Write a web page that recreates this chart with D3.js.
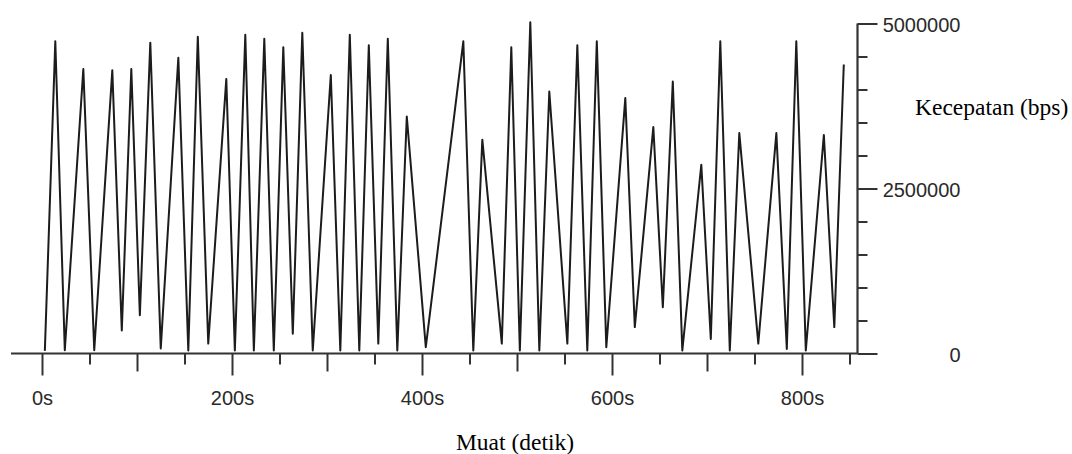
<!DOCTYPE html>
<html>
<head>
<meta charset="utf-8">
<script src="https://cdn.jsdelivr.net/npm/d3@7"></script>
<style>
  body { margin: 0; background: #fff; }
  svg { display: block; }
  .tick text { font-family: "Liberation Sans", Arial, sans-serif; font-size: 20px; fill: #2a2a2a; }
  .title { font-family: "Liberation Serif", "Times New Roman", serif; font-size: 23.5px; fill: #000; }
</style>
</head>
<body>
<svg id="chart"></svg>
<script>
const WIDTH = 1072;
const HEIGHT = 454;

// waktu (detik) pada tiap titik puncak / lembah
var times = [3, 14, 24, 43.5, 55, 74, 84, 94, 103, 114, 125, 143.5, 154, 164, 175,
  194, 203, 214, 223, 234, 244, 254, 264, 274, 285, 304, 314, 324, 334, 344, 354,
  364, 374, 384, 404, 443.5, 454, 463.5, 484, 494, 503, 514, 523.5, 534, 553,
  563.5, 574, 584, 594, 614, 624, 643.5, 653.5, 664, 674, 694, 704, 714, 724,
  734, 754, 773, 784, 794, 804, 823, 834, 844];
// kecepatan (bps) pada titik yang sama
var speeds = [40000, 4730000, 50000, 4310000, 50000, 4290000, 350000, 4310000, 580000,
  4710000, 75000, 4480000, 45000, 4800000, 150000, 4160000, 45000, 4830000, 45000,
  4770000, 45000, 4640000, 300000, 4860000, 45000, 4220000, 45000, 4830000, 45000,
  4670000, 150000, 4770000, 45000, 3590000, 96000, 4730000, 45000, 3240000, 150000,
  4640000, 45000, 5020000, 45000, 3970000, 150000, 4670000, 45000, 4730000, 96000,
  3870000, 400000, 3430000, 700000, 4120000, 45000, 2860000, 220000, 4730000, 45000,
  3340000, 150000, 3340000, 70000, 4730000, 45000, 3310000, 400000, 4380000];

var xMinor = [50, 150, 250, 350, 450, 550, 650, 750, 850];
var xMid = [100, 300, 500, 700];
var xMajor = [0, 200, 400, 600, 800];
var yMinor = [500000, 1000000, 1500000, 2000000, 3000000, 3500000, 4000000, 4500000];
var yMajor = [0, 2500000, 5000000];

var svg = d3.select('#chart')
    .attr('width', WIDTH)
    .attr('height', HEIGHT);

var xScale = d3.scaleLinear().domain([0, 800]).range([42, 802]);
var yScale = d3.scaleLinear().domain([0, 5000000]).range([353.5, 23.5]);

var axisY = 353.5;   // posisi garis sumbu x
var axisX = 857.5;   // posisi garis sumbu y

// sumbu x: tiga panjang tick
function xAxis(values, size, withLabels) {
    var ax = d3.axisBottom(xScale)
        .tickValues(values)
        .tickSize(size)
        .tickSizeOuter(0)
        .tickFormat(withLabels ? function(d) { return d + 's'; } : '');
    var g = svg.append('g')
        .attr('transform', 'translate(0,' + axisY + ')')
        .call(ax);
    g.select('.domain').remove();
    g.selectAll('.tick line').attr('stroke', '#333').attr('stroke-width', 2);
    if (withLabels) {
        g.selectAll('.tick text').attr('y', 0).attr('dy', null)
            .attr('transform', 'translate(0,51)');
    }
}
xAxis(xMinor, 11, false);
xAxis(xMid, 18, false);
xAxis(xMajor, 22, true);

svg.append('line')
    .attr('x1', 11).attr('x2', axisX)
    .attr('y1', axisY).attr('y2', axisY)
    .attr('stroke', '#333').attr('stroke-width', 2.2);

// sumbu y di kanan
function yAxis(values, size, withLabels) {
    var ax = d3.axisRight(yScale)
        .tickValues(values)
        .tickSize(size)
        .tickSizeOuter(0)
        .tickFormat(withLabels ? d3.format('d') : '');
    var g = svg.append('g')
        .attr('transform', 'translate(' + axisX + ',0)')
        .call(ax);
    g.select('.domain').remove();
    g.selectAll('.tick line').attr('stroke', '#333').attr('stroke-width', 2);
    if (withLabels) {
        g.selectAll('.tick text')
            .attr('x', 103)
            .attr('dy', '0.4em')
            .attr('text-anchor', 'end');
    }
}
yAxis(yMinor, 10, false);
yAxis(yMajor, 20, true);

svg.append('line')
    .attr('x1', axisX).attr('x2', axisX)
    .attr('y1', yScale(5000000)).attr('y2', axisY)
    .attr('stroke', '#333').attr('stroke-width', 2.2);

// garis data
var points = d3.zip(times, speeds);
var line = d3.line()
    .x(function(d) { return xScale(d[0]); })
    .y(function(d) { return yScale(d[1]); });

svg.append('path')
    .datum(points)
    .attr('d', line)
    .attr('fill', 'none')
    .attr('stroke', '#1c1c1c')
    .attr('stroke-width', 2)
    .attr('stroke-linejoin', 'round');

// judul sumbu
svg.append('text')
    .attr('class', 'title')
    .attr('x', 915).attr('y', 115)
    .text('Kecepatan (bps)');

svg.append('text')
    .attr('class', 'title')
    .attr('x', 515).attr('y', 450)
    .attr('text-anchor', 'middle')
    .text('Muat (detik)');
</script>
</body>
</html>
